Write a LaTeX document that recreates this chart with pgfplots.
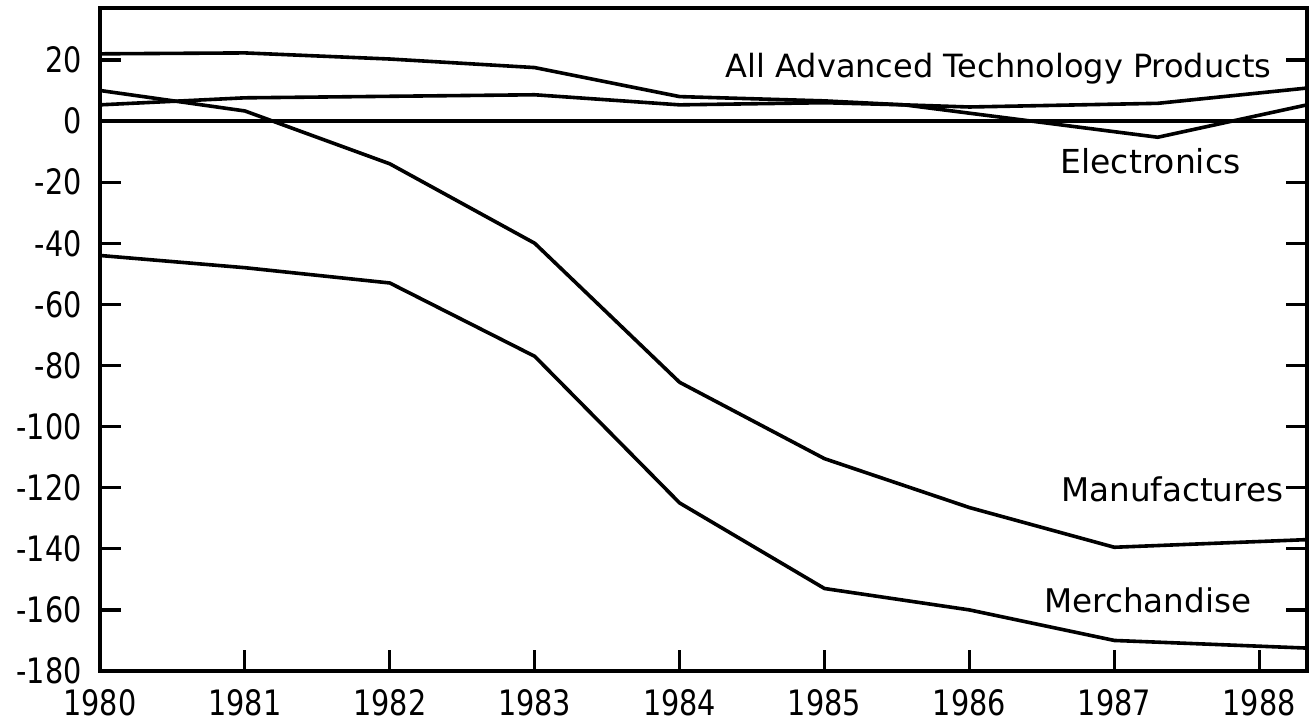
\documentclass[border=0pt]{standalone}
\usepackage{fontspec}
\setmainfont{DejaVu Sans}
\newfontfamily\numfont{DejaVu Sans}[FakeStretch=0.82]
\usepackage{pgfplots}
\pgfplotsset{compat=1.18}
\begin{document}
\begin{tikzpicture}
\begin{axis}[
  scale only axis,
  width=603.5pt, height=331.5pt,
  xmin=1980, xmax=1988.33,
  ymin=-180, ymax=37,
  xtick={1980,1981,...,1988},
  ytick={-180,-160,...,20},
  xtick pos=left,
  ytick pos=both,
  yticklabel pos=left,
  tick align=inside,
  major tick length=10.5pt,
  axis line style={black, line width=1.5pt},
  tick style={black, line width=1.6pt},
  every major tick/.append style={black, line width=1.6pt},
  /pgf/number format/assume math mode=true,
  /pgf/number format/1000 sep={},
  tick label style={font=\numfont\fontsize{17.5}{17.5}\selectfont, inner sep=0pt},
  xticklabel style={anchor=north, yshift=-9pt},
  yticklabel style={anchor=east, xshift=-9pt},
  clip=false,
]
% zero line
\addplot[black, line width=1.6pt] coordinates {(1980,0) (1988.33,0)};
% All Advanced Technology Products
\addplot[black, line width=1.8pt, line join=round] coordinates {(1980,22) (1981,22.3) (1982,20.3) (1983,17.5) (1984,8) (1985,6.6) (1985.55,5.3) (1986,4.6) (1987.3,5.8) (1988.33,10.8)};
% Electronics
\addplot[black, line width=1.8pt, line join=round] coordinates {(1980,5.3) (1981,7.6) (1982,8.1) (1983,8.6) (1984,5.3) (1985,6.0) (1985.55,5.3) (1987.3,-5.3) (1988.33,5.3)};
% Manufactures
\addplot[black, line width=1.8pt, line join=round] coordinates {(1980,10) (1981,3.3) (1982,-14) (1983,-40) (1984,-85.5) (1985,-110.5) (1986,-126.5) (1987,-139.5) (1988.33,-137)};
% Merchandise
\addplot[black, line width=1.8pt, line join=round] coordinates {(1980,-44) (1981,-48) (1982,-53) (1983,-77) (1984,-125) (1985,-153) (1986,-160) (1987,-170) (1988.33,-172.5)};

\node[anchor=base, inner sep=0pt, font=\fontsize{16}{16}\selectfont] at (axis cs:1986.2,14.2) {All Advanced Technology Products};
\node[anchor=base, inner sep=0pt, font=\fontsize{16.5}{16.5}\selectfont] at (axis cs:1987.25,-17.3) {Electronics};
\node[anchor=base, inner sep=0pt, font=\fontsize{16.3}{16.3}\selectfont] at (axis cs:1987.4,-124.6) {Manufactures};
\node[anchor=base, inner sep=0pt, font=\fontsize{16.3}{16.3}\selectfont] at (axis cs:1987.23,-160.9) {Merchandise};

\coordinate (LL) at (rel axis cs:0,0);
\coordinate (UR) at (rel axis cs:1,1);
\end{axis}
\draw[black, line width=1.7pt, line join=miter] (LL) rectangle (UR);
\pgfresetboundingbox
\path[use as bounding box] ([xshift=-50pt,yshift=-26.5pt]LL) rectangle ([xshift=2pt,yshift=4pt]UR);
\end{tikzpicture}
\end{document}
